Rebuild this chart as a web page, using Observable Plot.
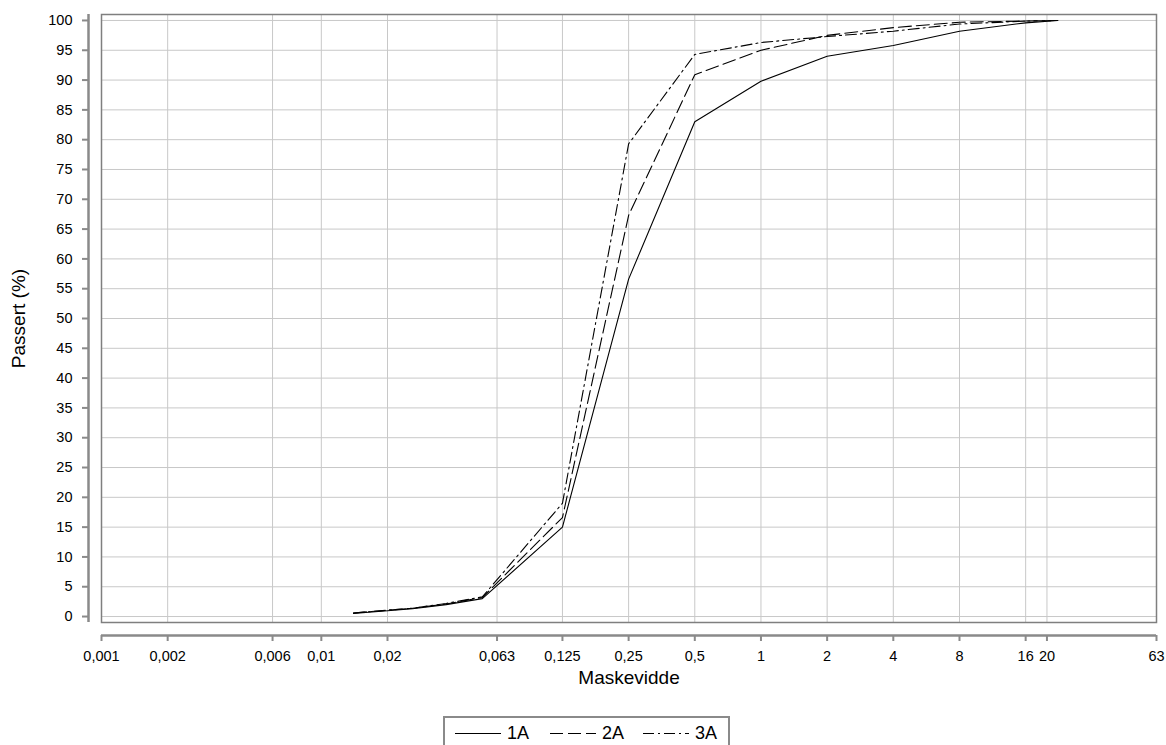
<!DOCTYPE html>
<html>
<head>
<meta charset="utf-8">
<script src="https://cdn.jsdelivr.net/npm/d3@7"></script>
<script src="https://cdn.jsdelivr.net/npm/@observablehq/plot@0.6"></script>
<style>
  html, body { margin: 0; padding: 0; background: #fff; }
  #wrap { position: relative; width: 1166px; height: 745px; overflow: hidden; font-family: 'Liberation Sans', Arial, sans-serif; }
  #legend { position: absolute; left: 443px; top: 716px; width: 287px; height: 36px; box-sizing: border-box;
            border: 2px solid #8a8a8a; background: #fff; font-size: 18px; color: #000; }
  .item { position: absolute; top: 4px; display: flex; align-items: center; height: 22px; }
  .item span { margin-left: 6px; line-height: 22px; }
</style>
</head>
<body>
<div id="wrap">
  <div id="chart"></div>
  <div id="legend"></div>
</div>
<script>
// Sieve sizes (mm)
const sizes = [0.014, 0.026, 0.037, 0.054, 0.125, 0.25, 0.5, 1, 2, 4, 8, 16, 22.4];
// Percent passing per sample
const s1A = [0.5, 1.3, 2.0, 3.0, 15.0, 56.6, 83.0, 89.8, 94.0, 95.8, 98.2, 99.6, 100];
const s2A = [0.6, 1.4, 2.1, 3.2, 16.6, 67.3, 90.9, 95.0, 97.5, 98.8, 99.7, 99.9, 100];
const s3A = [0.6, 1.4, 2.2, 3.3, 19.0, 79.3, 94.3, 96.3, 97.3, 98.2, 99.4, 99.9, 100];
const seriesNames = ["1A", "2A", "3A"];
const seriesDash = ["none", "13,5", "11,4,2,4"];
const legendLeft = [10, 105, 198];

const xTicks = [0.001, 0.002, 0.006, 0.01, 0.02, 0.063, 0.125, 0.25, 0.5, 1, 2, 4, 8, 16, 20, 63];
const xTickLabels = ["0,001", "0,002", "0,006", "0,01", "0,02", "0,063", "0,125", "0,25", "0,5", "1", "2", "4", "8", "16", "20", "63"];
const yTicks = [0, 5, 10, 15, 20, 25, 30, 35, 40, 45, 50, 55, 60, 65, 70, 75, 80, 85, 90, 95, 100];

const values = [s1A, s2A, s3A];
const data = seriesNames.flatMap((name, k) => sizes.map((s, i) => ({size: s, pass: values[k][i], series: name})));
const xTickData = xTicks.map((t, i) => ({t, label: xTickLabels[i]}));

const chart = Plot.plot({
  width: 1166,
  height: 700,
  marginLeft: 101,
  marginRight: 10,
  marginTop: 14,
  marginBottom: 78,
  style: {fontFamily: "'Liberation Sans', Arial, sans-serif", fontSize: "14.5px", color: "#000", background: "#fff"},
  x: {type: "log", domain: [0.001, 63]},
  y: {domain: [-1, 101]},
  marks: [
    Plot.gridX(xTicks, {stroke: "#c8c8c8", strokeOpacity: 1, strokeWidth: 1}),
    Plot.gridY(yTicks, {stroke: "#c8c8c8", strokeOpacity: 1, strokeWidth: 1}),
    Plot.frame({stroke: "#7f7f7f", strokeWidth: 1.5}),
    Plot.ruleX([0.001], {y1: -1, y2: 101, dx: -13, stroke: "#8a8a8a", strokeWidth: 2.5}),
    Plot.ruleY([-1], {x1: 0.001, x2: 63, dy: 13, stroke: "#8a8a8a", strokeWidth: 2.5}),
    Plot.axisX(xTicks, {tickFormat: () => "", dy: 13, tickSize: 6, stroke: "#8a8a8a", strokeWidth: 2, label: null}),
    Plot.text(xTickData, {x: "t", text: "label", frameAnchor: "bottom", dy: 28, lineAnchor: "top", textAnchor: "middle", fontSize: 14.5, fill: "#000"}),
    Plot.axisY(yTicks, {dx: -13, tickSize: 6, tickPadding: 10, stroke: "#8a8a8a", strokeWidth: 2, fill: "#000", fontSize: 14.5, label: null}),
    Plot.text(["Maskevidde"], {text: d => d, frameAnchor: "bottom", dy: 55, fontSize: 19, textAnchor: "middle", lineAnchor: "middle"}),
    Plot.text(["Passert (%)"], {text: d => d, frameAnchor: "left", dx: -83, rotate: -90, fontSize: 19, textAnchor: "middle", lineAnchor: "middle"}),
    ...seriesNames.map((name, k) => Plot.line(data, {
      filter: d => d.series === name,
      x: "size", y: "pass",
      stroke: "#000", strokeWidth: 1.1,
      strokeDasharray: seriesDash[k] === "none" ? null : seriesDash[k]
    }))
  ]
});
document.getElementById("chart").appendChild(chart);

// Legend
const legend = document.getElementById("legend");
seriesNames.forEach((name, k) => {
  const item = document.createElement("div");
  item.className = "item";
  item.style.left = legendLeft[k] + "px";
  const svgNS = "http://www.w3.org/2000/svg";
  const s = document.createElementNS(svgNS, "svg");
  s.setAttribute("width", 46);
  s.setAttribute("height", 12);
  const line = document.createElementNS(svgNS, "line");
  line.setAttribute("x1", 0); line.setAttribute("x2", 46);
  line.setAttribute("y1", 6.5); line.setAttribute("y2", 6.5);
  line.setAttribute("stroke", "#000");
  line.setAttribute("stroke-width", 1.1);
  if (seriesDash[k] !== "none") line.setAttribute("stroke-dasharray", seriesDash[k]);
  s.appendChild(line);
  const label = document.createElement("span");
  label.textContent = name;
  item.appendChild(s);
  item.appendChild(label);
  legend.appendChild(item);
});
</script>
</body>
</html>
